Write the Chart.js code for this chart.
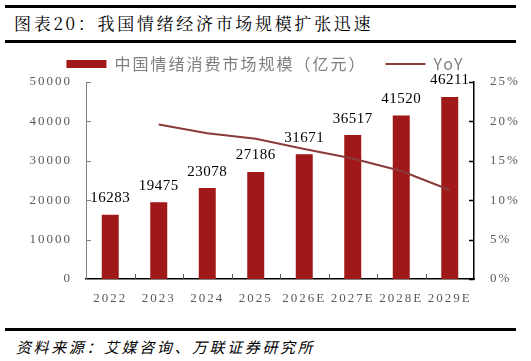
<!DOCTYPE html>
<html>
<head>
<meta charset="utf-8">
<script src="https://cdn.jsdelivr.net/npm/chart.js@4/dist/chart.umd.min.js"></script>
<style>
  html, body { margin: 0; padding: 0; background: #fff; }
  #wrap { position: relative; width: 531px; height: 361px; overflow: hidden; }
  .rule { position: absolute; left: 5px; width: 511px; background: #000; }
  #title { position: absolute; left: 14px; top: 10px; font: 17px "Noto Serif CJK SC", "Noto Sans CJK SC", serif; color: #000; letter-spacing: 2.7px; }
  #source { position: absolute; left: 16px; top: 336px; font: italic 15px "Noto Sans CJK SC", sans-serif; color: #000; letter-spacing: 2.6px; }
  #chart { position: absolute; left: 0; top: 37px; }
</style>
</head>
<body>
<div id="wrap">
  <div class="rule" style="top:5px;height:3px"></div>
  <div id="title">图表20：我国情绪经济市场规模扩张迅速</div>
  <div class="rule" style="top:40px;height:3px"></div>
  <canvas id="chart" width="531" height="288"></canvas>
  <div class="rule" style="top:328px;height:3px"></div>
  <div id="source">资料来源：艾媒咨询、万联证券研究所</div>
</div>
<script>
const years = ['2022', '2023', '2024', '2025', '2026E', '2027E', '2028E', '2029E'];
const marketSize = [16283, 19475, 23078, 27186, 31671, 36517, 41520, 46211];
const yoy = [null, 19.6, 18.5, 17.8, 16.5, 15.3, 13.7, 11.3];
const leftTicks = [0, 10000, 20000, 30000, 40000, 50000];
const rightTicks = [0, 5, 10, 15, 20, 25];

const barColor = '#A01818';
const lineColor = '#8B3A3A';
const tickColor = '#595959';

// canvas letter spacing for the serif tick text
const spacing = {
    id: 'spacing',
    beforeLayout(chart) { chart.ctx.letterSpacing = '2px'; },
    beforeDraw(chart) { chart.ctx.letterSpacing = '2px'; }
};

// inward tick marks and value labels
const extras = {
    id: 'extras',
    afterDraw(chart) {
        const ctx = chart.ctx;
        const x = chart.scales.x, yl = chart.scales.y, yr = chart.scales.y1;
        ctx.save();
        ctx.letterSpacing = '0.5px';
        ctx.lineWidth = 1;
        ctx.strokeStyle = '#808080';
        leftTicks.forEach(v => {
            const py = Math.round(yl.getPixelForValue(v)) + 0.5;
            ctx.beginPath(); ctx.moveTo(yl.right, py); ctx.lineTo(yl.right + 5, py); ctx.stroke();
        });
        ctx.strokeStyle = '#000';
        ctx.lineWidth = 1.5;
        rightTicks.forEach(v => {
            const py = Math.round(yr.getPixelForValue(v)) + 0.5;
            ctx.beginPath(); ctx.moveTo(yr.left, py); ctx.lineTo(yr.left - 5, py); ctx.stroke();
        });
        ctx.strokeStyle = '#555';
        ctx.lineWidth = 1;
        const step = (x.right - x.left) / years.length;
        for (let i = 1; i < years.length; i++) {
            const px = Math.round(x.left + i * step) + 0.5;
            ctx.beginPath(); ctx.moveTo(px, x.top); ctx.lineTo(px, x.top - 5); ctx.stroke();
        }
        ctx.fillStyle = '#000';
        ctx.font = '15px "Liberation Serif"';
        ctx.textAlign = 'center';
        ctx.textBaseline = 'bottom';
        const meta = chart.getDatasetMeta(1);
        meta.data.forEach((bar, i) => {
            ctx.fillText(marketSize[i], bar.x, bar.y - 9);
        });
        ctx.restore();
    }
};

new Chart(document.getElementById('chart'), {
    type: 'bar',
    data: {
        labels: years,
        datasets: [{
            type: 'line',
            label: 'YoY',
            data: yoy,
            yAxisID: 'y1',
            borderColor: lineColor,
            backgroundColor: lineColor,
            borderWidth: 2,
            pointRadius: 0,
            tension: 0,
            pointStyle: 'line',
            order: 0
        }, {
            label: '中国情绪消费市场规模（亿元）',
            data: marketSize,
            yAxisID: 'y',
            backgroundColor: barColor,
            barPercentage: 0.35,
            categoryPercentage: 1,
            pointStyle: 'rect',
            order: 1
        }]
    },
    options: {
        responsive: false,
        animation: false,
        devicePixelRatio: 1,
        layout: { padding: { top: 0, bottom: 0, left: 0, right: 0 } },
        plugins: {
            legend: {
                position: 'top',
                reverse: true,
                labels: {
                    usePointStyle: true,
                    pointStyleWidth: 40,
                    boxHeight: 8,
                    color: '#7f7f7f',
                    padding: 19,
                    font: { family: '"Noto Sans CJK SC"', size: 16 }
                }
            },
            tooltip: { enabled: false }
        },
        scales: {
            x: {
                offset: true,
                grid: { display: false, drawTicks: false },
                border: { color: '#000', width: 1.5 },
                ticks: { color: tickColor, padding: 12, maxRotation: 0, autoSkip: false, font: { family: '"Liberation Serif"', size: 13 } },
                afterFit(scale) { scale.height = 46; }
            },
            y: {
                position: 'left',
                min: 0,
                max: 50000,
                afterBuildTicks(scale) { scale.ticks = leftTicks.map(v => ({ value: v })); },
                grid: { display: false, drawTicks: false },
                border: { color: '#808080', width: 1 },
                ticks: { color: tickColor, padding: 14, autoSkip: false, font: { family: '"Liberation Serif"', size: 13 }, callback: v => String(v) },
                afterFit(scale) { scale.width = 86; }
            },
            y1: {
                position: 'right',
                min: 0,
                max: 25,
                afterBuildTicks(scale) { scale.ticks = rightTicks.map(v => ({ value: v })); },
                grid: { display: false, drawTicks: false },
                border: { color: '#000', width: 1.5 },
                ticks: {
                    color: tickColor,
                    padding: 16,
                    autoSkip: false,
                    font: { family: '"Liberation Serif"', size: 13 },
                    callback: v => v + '%'
                },
                afterFit(scale) { scale.width = 57; }
            }
        }
    },
    plugins: [spacing, extras]
});
</script>
</body>
</html>
